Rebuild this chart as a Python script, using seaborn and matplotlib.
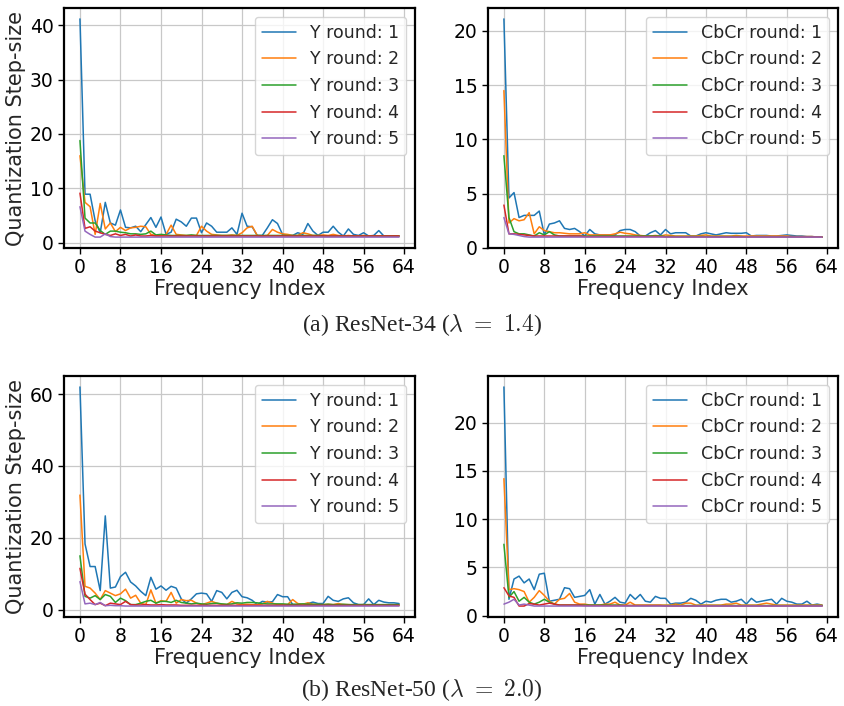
import numpy as np
import pandas as pd
import matplotlib
matplotlib.use("Agg")
import matplotlib.pyplot as plt
import seaborn as sns

# frequency index 0..63
freq = list(range(64))

# ResNet-34, luma (Y) step sizes per round
y34_r1 = [41.2, 8.9, 8.9, 4.0, 1.8, 7.4, 3.6, 3.2, 6.0, 2.8, 2.7, 3.0, 2.0, 3.3, 4.6, 2.8,
          4.7, 1.5, 1.9, 4.3, 3.8, 3.0, 4.5, 4.5, 1.8, 3.6, 3.0, 1.9, 1.9, 1.9, 2.7, 1.5,
          5.4, 3.0, 2.9, 1.3, 1.3, 2.7, 4.2, 3.5, 1.5, 1.3, 1.3, 1.8, 1.5, 3.5, 2.1, 1.3,
          1.9, 1.9, 3.0, 1.9, 1.2, 2.5, 1.5, 1.3, 1.8, 1.2, 1.3, 2.2, 1.2, 1.2, 1.2, 1.2]
y34_r2 = [16.0, 7.4, 6.6, 1.5, 7.2, 2.5, 3.6, 2.0, 2.8, 2.2, 2.7, 2.8, 3.0, 2.9, 1.5, 1.3,
          1.3, 1.5, 3.2, 1.5, 1.4, 1.3, 1.3, 1.3, 3.0, 2.1, 1.5, 1.4, 1.3, 1.3, 1.4, 1.3,
          1.8, 2.7, 3.0, 1.3, 1.2, 1.3, 2.4, 1.9, 1.6, 1.5, 1.3, 1.3, 1.8, 1.6, 1.3, 1.3,
          1.4, 1.3, 1.5, 1.3, 1.2, 1.3, 1.2, 1.2, 1.3, 1.2, 1.2, 1.2, 1.2, 1.2, 1.2, 1.2]
y34_r3 = [18.8, 4.5, 3.6, 3.6, 2.2, 1.5, 2.1, 2.1, 1.9, 1.8, 1.6, 1.6, 1.5, 1.6, 2.1, 1.4,
          1.5, 1.4, 1.3, 1.3, 1.3, 1.3, 1.4, 1.3, 1.3, 1.3, 1.3, 1.3, 1.3, 1.3, 1.3, 1.3,
          1.3, 1.3, 1.3, 1.3, 1.3, 1.3, 1.3, 1.3, 1.3, 1.3, 1.3, 1.3, 1.3, 1.3, 1.3, 1.3,
          1.2, 1.2, 1.2, 1.2, 1.2, 1.2, 1.2, 1.2, 1.2, 1.2, 1.2, 1.2, 1.2, 1.2, 1.2, 1.2]
y34_r4 = [9.1, 2.6, 2.9, 2.1, 1.8, 1.5, 1.3, 1.6, 1.3, 1.5, 1.2, 1.4, 1.2, 1.2, 1.3, 1.2,
          1.2, 1.2, 1.2, 1.2, 1.2, 1.2, 1.2, 1.2, 1.2, 1.2, 1.2, 1.2, 1.2, 1.2, 1.2, 1.2,
          1.2, 1.2, 1.2, 1.2, 1.2, 1.2, 1.2, 1.2, 1.2, 1.2, 1.2, 1.2, 1.2, 1.2, 1.2, 1.2,
          1.2, 1.2, 1.2, 1.2, 1.2, 1.2, 1.2, 1.2, 1.2, 1.2, 1.2, 1.2, 1.2, 1.2, 1.2, 1.2]
y34_r5 = [6.6, 2.1, 1.5, 1.0, 1.0, 1.6, 1.1, 1.0, 1.0, 1.0, 1.0, 1.0, 1.0, 1.0, 1.0, 1.0,
          1.0, 1.0, 1.0, 1.0, 1.0, 1.0, 1.0, 1.0, 1.0, 1.0, 1.0, 1.0, 1.0, 1.0, 1.0, 1.0,
          1.0, 1.0, 1.0, 1.0, 1.0, 1.0, 1.0, 1.0, 1.0, 1.0, 1.0, 1.0, 1.0, 1.0, 1.0, 1.0,
          1.0, 1.0, 1.0, 1.0, 1.0, 1.0, 1.0, 1.0, 1.0, 1.0, 1.0, 1.0, 1.0, 1.0, 1.0, 1.0]

# ResNet-34, chroma (CbCr)
c34_r1 = [21.1, 4.6, 5.1, 2.8, 3.0, 3.0, 3.0, 3.4, 1.2, 2.2, 2.3, 2.5, 1.8, 1.7, 1.8, 1.5,
          1.1, 1.7, 1.3, 1.2, 1.2, 1.2, 1.2, 1.6, 1.7, 1.7, 1.5, 1.1, 1.1, 1.4, 1.6, 1.2,
          1.7, 1.3, 1.4, 1.4, 1.4, 1.1, 1.1, 1.3, 1.4, 1.3, 1.2, 1.3, 1.4, 1.35, 1.35, 1.35,
          1.4, 1.1, 1.15, 1.15, 1.15, 1.1, 1.1, 1.15, 1.2, 1.15, 1.1, 1.1, 1.05, 1.05, 1.0, 1.0]
c34_r2 = [14.5, 2.3, 2.7, 2.5, 2.6, 3.25, 1.3, 1.95, 1.6, 1.5, 1.4, 1.4, 1.35, 1.3, 1.3, 1.3,
          1.4, 1.2, 1.2, 1.2, 1.2, 1.2, 1.3, 1.45, 1.35, 1.3, 1.2, 1.15, 1.1, 1.1, 1.15, 1.1,
          1.2, 1.15, 1.1, 1.1, 1.1, 1.1, 1.1, 1.15, 1.2, 1.1, 1.1, 1.1, 1.1, 1.1, 1.15, 1.1,
          1.1, 1.1, 1.1, 1.1, 1.1, 1.1, 1.1, 1.1, 1.1, 1.05, 1.05, 1.05, 1.05, 1.05, 1.0, 1.0]
c34_r3 = [8.5, 2.8, 1.5, 1.3, 1.3, 1.2, 1.1, 1.4, 1.2, 1.5, 1.2, 1.1, 1.1, 1.1, 1.1, 1.1,
          1.1, 1.1, 1.1, 1.1, 1.1, 1.1, 1.1, 1.1, 1.1, 1.1, 1.1, 1.1, 1.1, 1.1, 1.1, 1.1,
          1.05, 1.05, 1.05, 1.05, 1.05, 1.05, 1.05, 1.05, 1.05, 1.05, 1.05, 1.05, 1.05, 1.05, 1.05, 1.05,
          1.0, 1.0, 1.0, 1.0, 1.0, 1.0, 1.0, 1.0, 1.0, 1.0, 1.0, 1.0, 1.0, 1.0, 1.0, 1.0]
c34_r4 = [3.95, 1.3, 1.3, 1.25, 1.2, 1.15, 1.1, 1.1, 1.1, 1.1, 1.1, 1.1, 1.1, 1.1, 1.1, 1.1,
          1.05, 1.05, 1.05, 1.05, 1.05, 1.05, 1.05, 1.05, 1.05, 1.05, 1.05, 1.05, 1.05, 1.05, 1.05, 1.05,
          1.0, 1.0, 1.0, 1.0, 1.0, 1.0, 1.0, 1.0, 1.0, 1.0, 1.0, 1.0, 1.0, 1.0, 1.0, 1.0,
          1.0, 1.0, 1.0, 1.0, 1.0, 1.0, 1.0, 1.0, 1.0, 1.0, 1.0, 1.0, 1.0, 1.0, 1.0, 1.0]
c34_r5 = [2.8, 1.3, 1.25, 1.15, 1.05, 1.0, 1.0, 1.0, 1.0, 1.0, 1.0, 1.0, 1.0, 1.0, 1.0, 1.0,
          1.0, 1.0, 1.0, 1.0, 1.0, 1.0, 1.0, 1.0, 1.0, 1.0, 1.0, 1.0, 1.0, 1.0, 1.0, 1.0,
          1.0, 1.0, 1.0, 1.0, 1.0, 1.0, 1.0, 1.0, 1.0, 1.0, 1.0, 1.0, 1.0, 1.0, 1.0, 1.0,
          1.0, 1.0, 1.0, 1.0, 1.0, 1.0, 1.0, 1.0, 1.0, 1.0, 1.0, 1.0, 1.0, 1.0, 1.0, 1.0]

# ResNet-50, luma (Y)
y50_r1 = [62.0, 18.3, 12.0, 12.0, 5.3, 26.1, 6.0, 6.3, 9.2, 10.4, 7.7, 6.6, 5.1, 3.9, 9.0, 5.7,
          6.6, 5.4, 6.5, 6.0, 3.0, 1.8, 3.0, 4.4, 4.6, 4.4, 2.3, 5.3, 4.8, 3.0, 4.8, 5.4,
          3.6, 3.3, 2.6, 1.4, 2.3, 2.1, 2.2, 4.2, 3.6, 3.6, 1.4, 1.4, 1.4, 1.7, 2.1, 1.7,
          1.7, 3.7, 2.6, 2.3, 3.0, 3.3, 1.9, 1.4, 1.4, 3.0, 1.4, 2.6, 2.1, 1.9, 1.9, 1.7]
y50_r2 = [31.9, 6.5, 6.0, 4.6, 2.8, 5.3, 4.6, 3.9, 4.4, 5.7, 3.2, 4.0, 1.8, 1.4, 5.5, 1.8,
          2.5, 2.3, 4.8, 1.8, 2.8, 2.5, 2.6, 1.8, 1.4, 1.8, 2.3, 1.8, 1.5, 1.4, 2.3, 1.6,
          1.4, 1.5, 1.4, 1.4, 1.6, 2.3, 1.8, 1.4, 1.4, 1.4, 2.8, 1.7, 1.5, 1.9, 1.5, 1.4,
          1.4, 1.5, 1.4, 1.7, 1.4, 1.4, 1.3, 1.3, 1.4, 1.3, 1.3, 1.3, 1.3, 1.3, 1.3, 1.3]
y50_r3 = [15.0, 3.7, 3.2, 3.9, 2.8, 4.2, 3.7, 2.0, 3.2, 2.5, 1.4, 1.4, 1.8, 2.3, 2.6, 1.8,
          2.3, 2.3, 2.0, 2.6, 2.0, 1.8, 1.6, 1.8, 1.6, 1.5, 1.7, 1.8, 1.6, 1.5, 1.6, 1.9,
          1.8, 2.0, 2.0, 1.9, 1.7, 1.6, 1.6, 1.6, 1.6, 1.5, 1.5, 1.5, 1.6, 1.5, 1.5, 1.5,
          1.4, 1.5, 1.4, 1.4, 1.5, 1.4, 1.4, 1.4, 1.4, 1.4, 1.4, 1.4, 1.4, 1.4, 1.4, 1.4]
y50_r4 = [11.5, 4.3, 2.8, 1.4, 1.8, 1.1, 1.8, 1.6, 1.4, 2.3, 1.4, 1.3, 1.3, 1.4, 1.3, 1.3,
          1.4, 1.3, 1.3, 1.3, 1.2, 1.2, 1.2, 1.2, 1.2, 1.2, 1.2, 1.2, 1.2, 1.2, 1.2, 1.2,
          1.2, 1.2, 1.2, 1.2, 1.2, 1.2, 1.2, 1.2, 1.2, 1.2, 1.2, 1.2, 1.2, 1.2, 1.2, 1.2,
          1.2, 1.2, 1.2, 1.2, 1.2, 1.2, 1.2, 1.2, 1.2, 1.2, 1.2, 1.2, 1.2, 1.2, 1.2, 1.2]
y50_r5 = [7.8, 1.6, 1.8, 1.4, 2.0, 1.1, 1.2, 1.1, 1.1, 1.0, 1.0, 1.0, 1.0, 1.0, 1.0, 1.0,
          1.0, 1.0, 1.0, 1.0, 1.0, 1.0, 1.0, 1.0, 1.0, 1.0, 1.0, 1.0, 1.0, 1.0, 1.0, 1.0,
          1.0, 1.0, 1.0, 1.0, 1.0, 1.0, 1.0, 1.0, 1.0, 1.0, 1.0, 1.0, 1.0, 1.0, 1.0, 1.0,
          1.0, 1.0, 1.0, 1.0, 1.0, 1.0, 1.0, 1.0, 1.0, 1.0, 1.0, 1.0, 1.0, 1.0, 1.0, 1.0]

# ResNet-50, chroma (CbCr)
c50_r1 = [23.7, 1.7, 3.8, 4.1, 3.4, 3.8, 2.7, 4.3, 4.4, 1.5, 1.6, 1.7, 2.9, 2.8, 1.9, 2.0,
          2.1, 2.7, 1.2, 2.2, 1.2, 1.5, 1.9, 1.4, 1.3, 2.2, 1.7, 2.2, 1.5, 1.4, 2.0, 1.8,
          1.8, 1.2, 1.3, 1.3, 1.4, 1.8, 1.6, 1.2, 1.5, 1.4, 1.6, 1.7, 1.7, 1.4, 1.5, 1.7,
          1.2, 1.8, 1.4, 1.5, 1.6, 1.7, 1.2, 1.8, 1.5, 1.4, 1.2, 1.2, 1.5, 1.1, 1.2, 1.1]
c50_r2 = [14.2, 2.7, 2.8, 2.7, 2.5, 1.4, 1.9, 2.6, 2.1, 1.5, 1.2, 1.7, 1.8, 2.3, 1.4, 1.2,
          1.2, 1.1, 1.1, 1.1, 1.2, 1.2, 1.4, 1.1, 1.1, 1.4, 1.1, 1.1, 1.1, 1.1, 1.1, 1.1,
          1.1, 1.1, 1.2, 1.1, 1.3, 1.3, 1.1, 1.1, 1.1, 1.1, 1.1, 1.1, 1.2, 1.2, 1.3, 1.1,
          1.1, 1.1, 1.1, 1.2, 1.3, 1.2, 1.1, 1.1, 1.1, 1.1, 1.1, 1.1, 1.1, 1.1, 1.1, 1.1]
c50_r3 = [7.4, 1.9, 2.5, 1.5, 1.9, 1.4, 1.2, 1.4, 1.7, 1.4, 1.2, 1.1, 1.1, 1.1, 1.1, 1.1,
          1.1, 1.1, 1.1, 1.1, 1.1, 1.1, 1.1, 1.1, 1.05, 1.05, 1.05, 1.05, 1.05, 1.05, 1.05, 1.05,
          1.05, 1.05, 1.05, 1.05, 1.05, 1.05, 1.05, 1.05, 1.05, 1.05, 1.05, 1.05, 1.05, 1.05, 1.05, 1.05,
          1.05, 1.05, 1.05, 1.05, 1.05, 1.05, 1.05, 1.05, 1.05, 1.05, 1.05, 1.05, 1.05, 1.05, 1.05, 1.05]
c50_r4 = [2.9, 2.05, 1.9, 1.0, 1.0, 1.25, 1.2, 1.1, 1.2, 1.3, 1.2, 1.1, 1.1, 1.1, 1.1, 1.1,
          1.05, 1.05, 1.05, 1.05, 1.05, 1.05, 1.05, 1.05, 1.05, 1.05, 1.05, 1.05, 1.05, 1.05, 1.05, 1.05,
          1.0, 1.0, 1.0, 1.0, 1.0, 1.0, 1.0, 1.0, 1.0, 1.0, 1.0, 1.0, 1.0, 1.0, 1.0, 1.0,
          1.0, 1.0, 1.0, 1.0, 1.0, 1.0, 1.0, 1.0, 1.0, 1.0, 1.0, 1.0, 1.0, 1.0, 1.0, 1.0]
c50_r5 = [1.2, 1.4, 1.7, 1.1, 1.2, 1.1, 1.0, 1.0, 1.0, 1.0, 1.0, 1.0, 1.0, 1.0, 1.0, 1.0,
          1.0, 1.0, 1.0, 1.0, 1.0, 1.0, 1.0, 1.0, 1.0, 1.0, 1.0, 1.0, 1.0, 1.0, 1.0, 1.0,
          1.0, 1.0, 1.0, 1.0, 1.0, 1.0, 1.0, 1.0, 1.0, 1.0, 1.0, 1.0, 1.0, 1.0, 1.0, 1.0,
          1.0, 1.0, 1.0, 1.0, 1.0, 1.0, 1.0, 1.0, 1.0, 1.0, 1.0, 1.0, 1.0, 1.0, 1.0, 1.0]

captions = ["(a) ResNet-34 ($\\lambda\\ =\\ 1.4$)", "(b) ResNet-50 ($\\lambda\\ =\\ 2.0$)"]

sns.set_style("ticks")
plt.rcParams["font.family"] = ["DejaVu Sans"]
plt.rcParams["mathtext.fontset"] = "cm"

palette = sns.color_palette("tab10", 5)


def make_df(series, channel):
    rows = []
    for i, vals in enumerate(series):
        assert len(vals) == 64
        for f, v in zip(freq, vals):
            rows.append({"freq": f, "step": v, "round": f"{channel} round: {i + 1}"})
    return pd.DataFrame(rows)


panels = [
    ([y34_r1, y34_r2, y34_r3, y34_r4, y34_r5], "Y", [0, 10, 20, 30, 40]),
    ([c34_r1, c34_r2, c34_r3, c34_r4, c34_r5], "CbCr", [0, 5, 10, 15, 20]),
    ([y50_r1, y50_r2, y50_r3, y50_r4, y50_r5], "Y", [0, 20, 40, 60]),
    ([c50_r1, c50_r2, c50_r3, c50_r4, c50_r5], "CbCr", [0, 5, 10, 15, 20]),
]

W, H = 844, 706
boxes = [(64, 8, 415, 248), (488, 8, 838, 248), (64, 376, 415, 617), (488, 376, 838, 617)]

fig = plt.figure(figsize=(W / 100, H / 100), dpi=100)

for (series, channel, yticks), (x0, y0, x1, y1) in zip(panels, boxes):
    ax = fig.add_axes([x0 / W, 1 - y1 / H, (x1 - x0) / W, (y1 - y0) / H])
    df = make_df(series, channel)
    sns.lineplot(data=df, x="freq", y="step", hue="round", palette=palette,
                 linewidth=1.1, ax=ax)
    ax.set_xticks(range(0, 65, 8))
    ax.set_yticks(yticks)
    ax.grid(True, color="#c8c8c8", linewidth=0.9)
    ax.tick_params(labelsize=13.5, colors="black", length=4, width=1)
    for s in ax.spines.values():
        s.set_color("black")
        s.set_linewidth(1.6)
    ax.set_xlabel("Frequency Index", fontsize=15, labelpad=1)
    if channel == "Y":
        ax.set_ylabel("Quantization Step-size", fontsize=15, labelpad=3)
    else:
        ax.set_ylabel("")
    ax.legend(loc="upper right", fontsize=12.5, title=None, framealpha=0.8)

fig.text(0.5, 1 - 325 / H, captions[0], ha="center", va="center",
         fontsize=17, family="Liberation Serif")
fig.text(0.5, 1 - 690 / H, captions[1], ha="center", va="center",
         fontsize=17, family="Liberation Serif")

fig.savefig("out.png", dpi=100)
